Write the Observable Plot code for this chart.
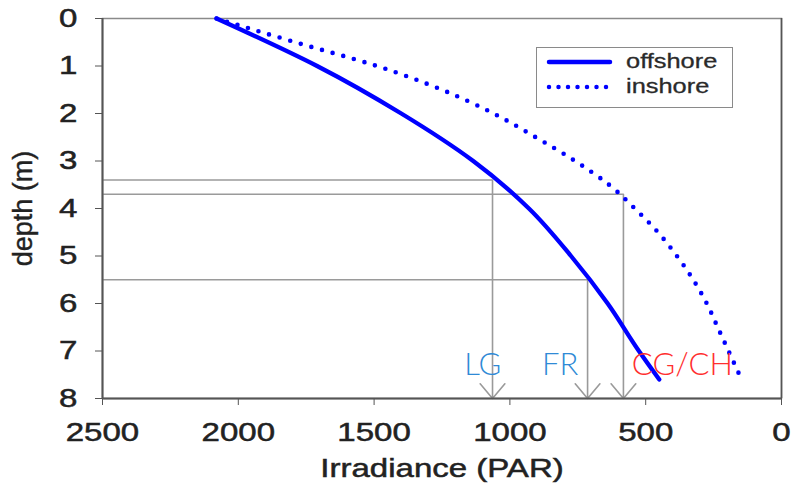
<!DOCTYPE html>
<html>
<head>
<meta charset="utf-8">
<script src="https://cdn.jsdelivr.net/npm/d3@7"></script>
<script src="https://cdn.jsdelivr.net/npm/@observablehq/plot@0.6"></script>
<style>
  html, body { margin: 0; padding: 0; background: #fff; }
  #wrap { position: relative; width: 794px; height: 495px; }
  #legend { position: absolute; left: 536px; top: 47px; width: 195px; height: 59px;
    border: 1.5px solid #8a8a8a; background: #fff; font-family: "Liberation Sans", Arial, sans-serif; }
  .lrow { position: absolute; left: 0; width: 195px; height: 24px; }
  .lrow svg { position: absolute; left: 8px; top: 0; }
  .lrow span { position: absolute; left: 89px; top: -1px; font-size: 20px; line-height: 24px; color: #2a2a2a;
    -webkit-text-stroke: 0.3px #2a2a2a;
    transform: scaleX(1.27); transform-origin: left center; white-space: nowrap; }
</style>
</head>
<body>
<div id="wrap"></div>
<script>
// ---- data ----
const offshoreDepth = [0, 1, 2, 3, 4, 5, 6, 7, 7.6];
const offshoreIrr   = [2080, 1710, 1400, 1135, 930, 775, 640, 525, 450];

const inshoreDepth = [0, 0.5, 1, 1.5, 2, 2.5, 3, 3.5, 4, 4.5, 5, 5.5, 6, 6.5, 7, 7.5];
const inshoreIrr   = [2080, 1790, 1490, 1250, 1060, 905, 760, 635, 540, 455, 385, 325, 275, 235, 195, 155];

const siteNames  = ["LG", "FR", "CG/CH"];
const siteDepth  = [3.4, 5.5, 3.7];
const siteIrr    = [1064, 714, 582];
const siteLabelX = [1100, 815, 365];
const siteLabelDepth = 7.3;
const siteColors = ["#2f8ad6", "#2f8ad6", "#ff2f2f"];

const xTicks = [2500, 2000, 1500, 1000, 500, 0];
const yTicks = [0, 1, 2, 3, 4, 5, 6, 7, 8];
const seriesNames = ["offshore", "inshore"];

// ---- tables ----
const offshore = offshoreDepth.map((d, i) => ({depth: d, irr: offshoreIrr[i]}));
const inshore  = inshoreDepth.map((d, i) => ({depth: d, irr: inshoreIrr[i]}));
const sites = siteNames.map((n, i) => ({name: n, depth: siteDepth[i], irr: siteIrr[i], lx: siteLabelX[i], ly: siteLabelDepth, color: siteColors[i]}));

const blue = "#0000ff";
const gray = "#9a9a9a";

const chart = Plot.plot({
  width: 794,
  height: 495,
  marginLeft: 102,
  marginRight: 13,
  marginTop: 18,
  marginBottom: 97,
  style: {fontFamily: "'Liberation Sans', Arial, sans-serif", fontSize: "26px", color: "#222", background: "#fff"},
  x: {domain: [0, 2500], reverse: true, label: null},
  y: {domain: [0, 8], reverse: true, label: null},
  marks: [
    Plot.frame({stroke: "#8a8a8a", strokeWidth: 1.5}),
    // guide lines
    Plot.ruleY(sites, {y: "depth", x1: 2500, x2: "irr", stroke: gray, strokeWidth: 1.6}),
    Plot.arrow(sites, {x1: "irr", y1: "depth", x2: "irr", y2: 8, stroke: gray, strokeWidth: 1.6, headLength: 18, headAngle: 80}),
    // curves
    Plot.line(inshore, {x: "irr", y: "depth", stroke: blue, strokeWidth: 4.6, strokeDasharray: "0,11", strokeLinecap: "round", curve: "monotone-y"}),
    Plot.line(offshore, {x: "irr", y: "depth", stroke: blue, strokeWidth: 4.3, curve: "monotone-y"}),
    // site labels
    Plot.text(sites, {x: "lx", y: "ly", text: "name", fill: "color", fontSize: 31, fontFamily: "Lato, 'Open Sans', sans-serif", fontWeight: 300}),
    // axes
    Plot.axisX({ticks: xTicks, tickFormat: d => String(d), tickSize: 7, tickPadding: 17, fontSize: 26, stroke: "#555", label: null}),
    Plot.axisY({ticks: yTicks, tickFormat: d => String(d), tickSize: 7, tickPadding: 18, fontSize: 26, stroke: "#555", label: null}),
    Plot.ruleX([2500], {stroke: "#555", strokeWidth: 2}),
    Plot.ruleY([8], {stroke: "#555", strokeWidth: 2}),
    Plot.ruleX([0], {stroke: "#555", strokeWidth: 1.6}),
    // axis titles
    Plot.text(["Irradiance (PAR)"], {frameAnchor: "bottom", dy: 78, text: d => d, fontSize: 26, fill: "#222", className: "stretch"}),
    Plot.text(["depth (m)"], {frameAnchor: "left", dx: -79, rotate: -90, textAnchor: "middle", text: d => d, fontSize: 27, fill: "#222", className: "boldish"})
  ]
});

const wrap = document.getElementById("wrap");
wrap.appendChild(chart);

// horizontal stretch of the tick labels and x title to match the reference's wide type
chart.querySelectorAll("g[aria-label='x-axis tick label'] text, g[aria-label='y-axis tick label'] text, .stretch text").forEach(t => {
  const len = t.getComputedTextLength();
  t.setAttribute("textLength", (len * 1.27).toFixed(1));
  t.setAttribute("lengthAdjust", "spacingAndGlyphs");
  t.style.stroke = "#222";
  t.style.strokeWidth = "0.5px";
});
chart.querySelectorAll(".boldish text").forEach(t => {
  t.style.stroke = "#222";
  t.style.strokeWidth = "0.4px";
});

// legend
const legend = document.createElement("div");
legend.id = "legend";
legend.innerHTML = seriesNames.map((name, i) => {
  const dash = i === 0 ? "" : 'stroke-dasharray="0,9.5"';
  return `<div class="lrow" style="top:${i === 0 ? 2 : 27}px">
    <svg width="70" height="24"><line x1="4" y1="12" x2="${i === 0 ? 65 : 63}" y2="12" stroke="${blue}" stroke-width="4.5" stroke-linecap="round" ${dash}/></svg>
    <span>${name}</span></div>`;
}).join("");
wrap.appendChild(legend);
</script>
</body>
</html>
